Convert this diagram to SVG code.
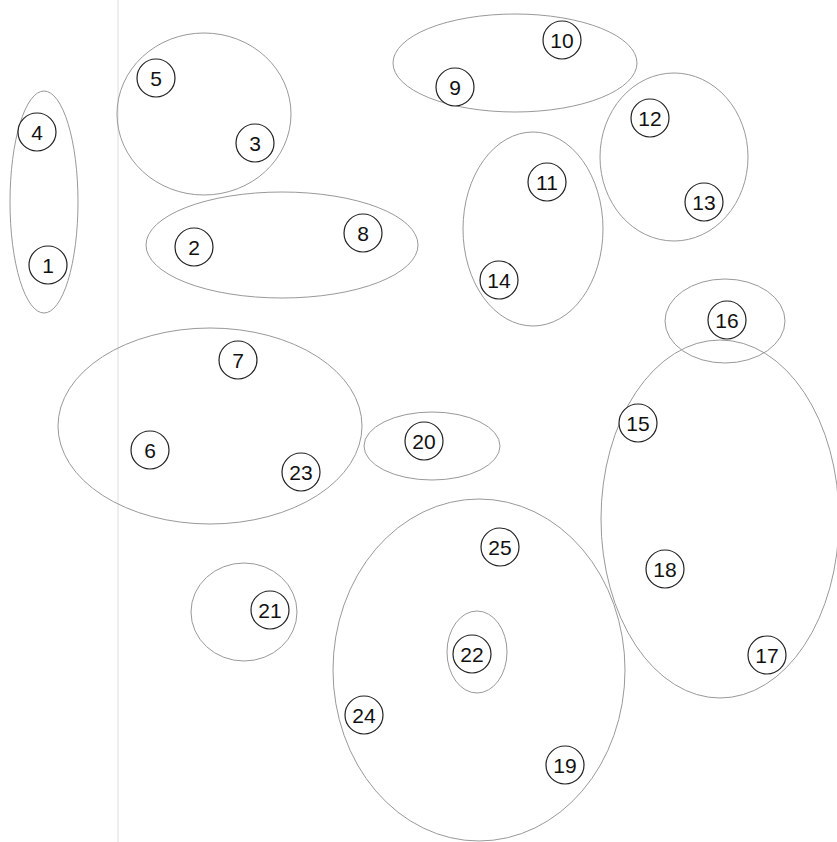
<svg xmlns="http://www.w3.org/2000/svg" width="837" height="842" viewBox="0 0 837 842">
<style>
.grp{fill:none;stroke:#999;stroke-width:1}
.node circle{fill:#fff;stroke:#222;stroke-width:1.2}
.node text{font-family:"Liberation Sans",Arial,sans-serif;font-size:21px;fill:#111;text-anchor:middle;dominant-baseline:central}
</style>
<rect width="837" height="842" fill="#fff"/>
<line x1="118" y1="0" x2="118" y2="842" stroke="#eeeeee" stroke-width="2"/>
<g id="connectors">
<ellipse class="grp" cx="44" cy="202" rx="34" ry="111"/>
<ellipse class="grp" cx="204" cy="114" rx="87" ry="81"/>
<ellipse class="grp" cx="282" cy="245" rx="136" ry="53"/>
<ellipse class="grp" cx="515" cy="63" rx="122" ry="49"/>
<ellipse class="grp" cx="533" cy="229" rx="70" ry="97"/>
<ellipse class="grp" cx="674" cy="157" rx="74" ry="84"/>
<ellipse class="grp" cx="725" cy="321" rx="60" ry="42"/>
<ellipse class="grp" cx="720" cy="519" rx="119" ry="179"/>
<ellipse class="grp" cx="210" cy="426" rx="152" ry="98"/>
<ellipse class="grp" cx="432" cy="446" rx="68" ry="34"/>
<ellipse class="grp" cx="479" cy="670" rx="146" ry="171"/>
<ellipse class="grp" cx="477" cy="652" rx="30" ry="41"/>
<ellipse class="grp" cx="244" cy="612" rx="53" ry="49"/>
</g>
<g id="n1" class="node"><circle cx="48" cy="265" r="19"/><text x="48" y="265">1</text></g>
<g id="n4" class="node"><circle cx="37" cy="132" r="19"/><text x="37" y="132">4</text></g>
<g id="n5" class="node"><circle cx="156" cy="78" r="19"/><text x="156" y="78">5</text></g>
<g id="n3" class="node"><circle cx="255" cy="143" r="19"/><text x="255" y="143">3</text></g>
<g id="n2" class="node"><circle cx="194" cy="247" r="19"/><text x="194" y="247">2</text></g>
<g id="n8" class="node"><circle cx="363" cy="233" r="19"/><text x="363" y="233">8</text></g>
<g id="n10" class="node"><circle cx="562" cy="40" r="19"/><text x="562" y="40">10</text></g>
<g id="n9" class="node"><circle cx="455" cy="87" r="19"/><text x="455" y="87">9</text></g>
<g id="n12" class="node"><circle cx="650" cy="118" r="19"/><text x="650" y="118">12</text></g>
<g id="n13" class="node"><circle cx="704" cy="202" r="19"/><text x="704" y="202">13</text></g>
<g id="n11" class="node"><circle cx="547" cy="182" r="19"/><text x="547" y="182">11</text></g>
<g id="n14" class="node"><circle cx="499" cy="280" r="19"/><text x="499" y="280">14</text></g>
<g id="n16" class="node"><circle cx="727" cy="320" r="19"/><text x="727" y="320">16</text></g>
<g id="n15" class="node"><circle cx="638" cy="423" r="19"/><text x="638" y="423">15</text></g>
<g id="n18" class="node"><circle cx="665" cy="569" r="19"/><text x="665" y="569">18</text></g>
<g id="n17" class="node"><circle cx="767" cy="655" r="19"/><text x="767" y="655">17</text></g>
<g id="n7" class="node"><circle cx="238" cy="360" r="19"/><text x="238" y="360">7</text></g>
<g id="n6" class="node"><circle cx="150" cy="450" r="19"/><text x="150" y="450">6</text></g>
<g id="n23" class="node"><circle cx="301" cy="472" r="19"/><text x="301" y="472">23</text></g>
<g id="n20" class="node"><circle cx="424" cy="441" r="19"/><text x="424" y="441">20</text></g>
<g id="n25" class="node"><circle cx="500" cy="547" r="19"/><text x="500" y="547">25</text></g>
<g id="n22" class="node"><circle cx="472" cy="654" r="19"/><text x="472" y="654">22</text></g>
<g id="n24" class="node"><circle cx="364" cy="715" r="19"/><text x="364" y="715">24</text></g>
<g id="n19" class="node"><circle cx="565" cy="765" r="19"/><text x="565" y="765">19</text></g>
<g id="n21" class="node"><circle cx="270" cy="610" r="19"/><text x="270" y="610">21</text></g>
</svg>
